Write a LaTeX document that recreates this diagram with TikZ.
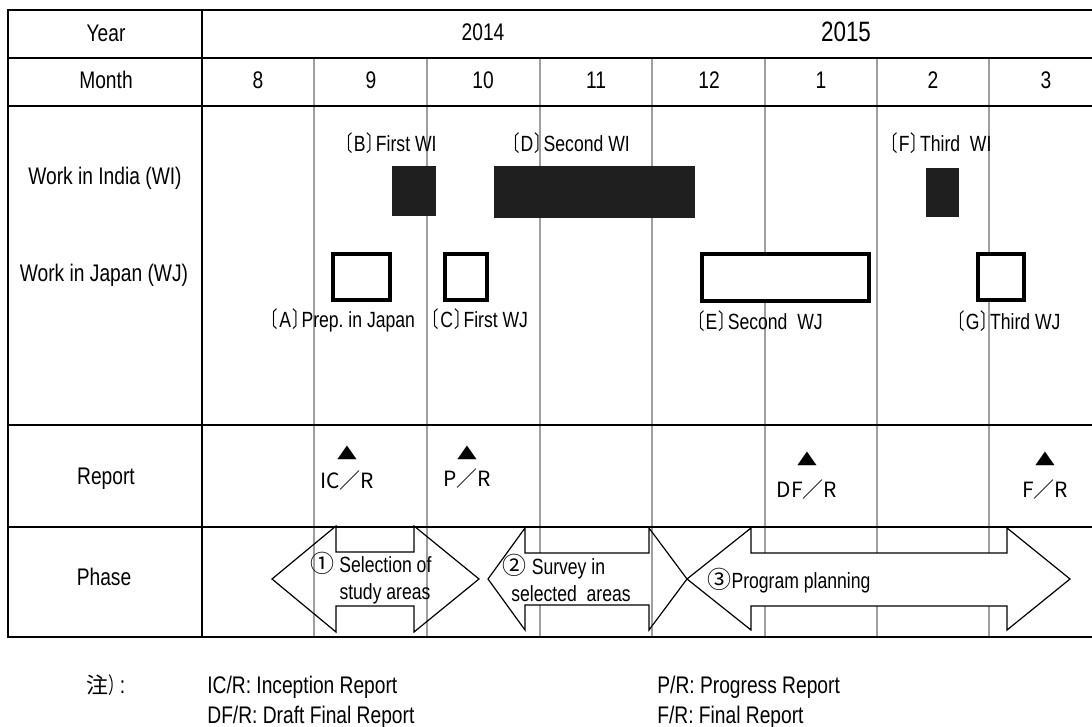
\documentclass[tikz,border=0pt]{standalone}
\usepackage{fontspec}
\setmainfont[FakeStretch=0.8]{Liberation Sans}
\newfontfamily\cjk{Noto Sans CJK JP}
\newfontfamily\cjknarrow[FakeStretch=0.7]{Noto Sans CJK JP}
\newfontfamily\trifont[FakeStretch=1.4]{DejaVu Sans}
\newcommand{\bkt}[1]{{\cjknarrow 〔}\kern0.5pt#1\kern0.5pt{\cjknarrow 〕}\kern-3pt}

\begin{document}
\begin{tikzpicture}[
        x=0.5pt, y=-0.5pt,
        frame/.style={line width=1.4pt},
        monthline/.style={gray!75, line width=0.8pt},
        wibar/.style={fill=black!88},
        wjbox/.style={draw, fill=white, line width=1.6pt},
        phase/.style={draw, line width=0.6pt, line join=miter},
        head/.style={inner sep=0, anchor=base, font=\fontsize{12}{14}\selectfont},
        work/.style={inner sep=0, anchor=base, font=\fontsize{11}{13}\selectfont},
        report/.style={inner sep=0, anchor=base, font=\cjk\fontsize{10.5}{12}\selectfont},
        reportmark/.style={inner sep=0, anchor=base, font=\trifont\fontsize{9}{10}\selectfont},
        note/.style={inner sep=0, anchor=base west, font=\fontsize{12}{14}\selectfont}
    ]
        \useasboundingbox (0,0) rectangle (1092,727);

        % Month lines
        \draw [monthline] (314,58) -- (314,637);
        \draw [monthline] (427,58) -- (427,637);
        \draw [monthline] (540,58) -- (540,637);
        \draw [monthline] (652,58) -- (652,637);
        \draw [monthline] (765,58) -- (765,637);
        \draw [monthline] (877,58) -- (877,637);
        \draw [monthline] (989,58) -- (989,637);

        % Table frame
        \draw [frame] (1092,10) -- (8,10) -- (8,637) -- (1092,637);
        \draw [frame] (202,10) -- (202,637);
        \draw [frame] (8,58) -- (1092,58);
        \draw [frame] (8,106) -- (1092,106);
        \draw [frame] (8,425) -- (1092,425);
        \draw [frame] (8,527) -- (1092,527);

        % Header
        \node (year) [head] at (106,42) {Year};
        \node (y2014) [head] at (483,41) {2014};
        \node (y2015) [head, font=\fontsize{14}{16}\selectfont] at (846,42) {2015};
        \node (month) [head] at (106,89) {Month};
        \node (m8) [head] at (258,89) {8};
        \node (m9) [head] at (371,89) {9};
        \node (m10) [head] at (483,89) {10};
        \node (m11) [head] at (596,89) {11};
        \node (m12) [head] at (709,89) {12};
        \node (m1) [head] at (821,89) {1};
        \node (m2) [head] at (933,89) {2};
        \node (m3) [head] at (1046,89) {3};

        % Row titles
        \node (wi) [head] at (105,185) {Work in India (WI)};
        \node (wj) [head] at (104,282) {Work in Japan (WJ)};
        \node (rep) [head] at (106,484) {Report};
        \node (pha) [head] at (104,585) {Phase};

        % Work in India
        \fill [wibar] (392,166) rectangle (436,216);
        \fill [wibar] (494,166) rectangle (695,218);
        \fill [wibar] (926,168) rectangle (959,217);
        \node (wib) [work] at (387,152) {\bkt{B}First WI};
        \node (wid) [work] at (567,152) {\bkt{D}Second WI};
        \node (wif) [work] at (937,152) {\bkt{F}Third\ \ WI};

        % Work in Japan
        \draw [wjbox] (333,254) rectangle (390,300);
        \draw [wjbox] (445,254) rectangle (487,300);
        \draw [wjbox] (702,254) rectangle (869,301);
        \draw [wjbox] (978,254) rectangle (1024,300);
        \node (wja) [work] at (339,328) {\bkt{A}Prep.\ in Japan};
        \node (wjc) [work] at (476,328) {\bkt{C}First WJ};
        \node (wje) [work] at (756,329) {\bkt{E}Second\ \ WJ};
        \node (wjg) [work] at (1005,329) {\bkt{G}Third\ WJ};

        % Reports
        \node (icm) [reportmark] at (347,457) {▲};
        \node (icr) [report] at (347,488) {IC／R};
        \node (prm) [reportmark] at (467,457) {▲};
        \node (prr) [report] at (467,486) {P／R};
        \node (dfm) [reportmark] at (807,463) {▲};
        \node (dfr) [report] at (807,497) {DF／R};
        \node (fm) [reportmark] at (1045,463) {▲};
        \node (fr) [report] at (1045,497) {F／R};

        % Phases
        \fill [white] (336,552) rectangle (414,606);
        \draw [phase] (272,579) -- (336,526) -- (336,552) -- (414,552) -- (414,526) -- (479,579)
            -- (414,632) -- (414,606) -- (336,606) -- (336,632) -- cycle;
        \fill [white] (525,553) rectangle (649,605);
        \draw [phase] (488,579) -- (525,528) -- (525,553) -- (649,553) -- (649,528) -- (687,579)
            -- (649,630) -- (649,605) -- (525,605) -- (525,630) -- cycle;
        \fill [white] (751,553) rectangle (1007,606);
        \draw [phase] (687,579) -- (751,528) -- (751,553) -- (1007,553) -- (1007,528) -- (1070,579)
            -- (1007,630) -- (1007,606) -- (751,606) -- (751,630) -- cycle;
        \node (p1a) [work] at (371,572) {{\cjk\fontsize{12}{13}\selectfont ①} Selection\ of};
        \node (p1b) [work] at (385,599) {study\ areas};
        \node (p2a) [work] at (554,574) {{\cjk\fontsize{12}{13}\selectfont ②} Survey in};
        \node (p2b) [work] at (571,601) {selected\ \ areas};
        \node (p3) [work] at (789,588) {{\cjk\fontsize{12}{13}\selectfont ③}Program\ planning};

        % Notes
        \node (nt) [note] at (86,693) {{\cjk\fontsize{11}{13}\selectfont 注}{\cjknarrow\fontsize{11}{13}\selectfont ）}\kern-2pt:};
        \node (nic) [note] at (207,693) {IC/R: Inception Report};
        \node (ndf) [note] at (207,723) {DF/R: Draft Final Report};
        \node (npr) [note] at (657,693) {P/R: Progress Report};
        \node (nf) [note] at (657,723) {F/R: Final Report};
    \end{tikzpicture}
\end{document}
